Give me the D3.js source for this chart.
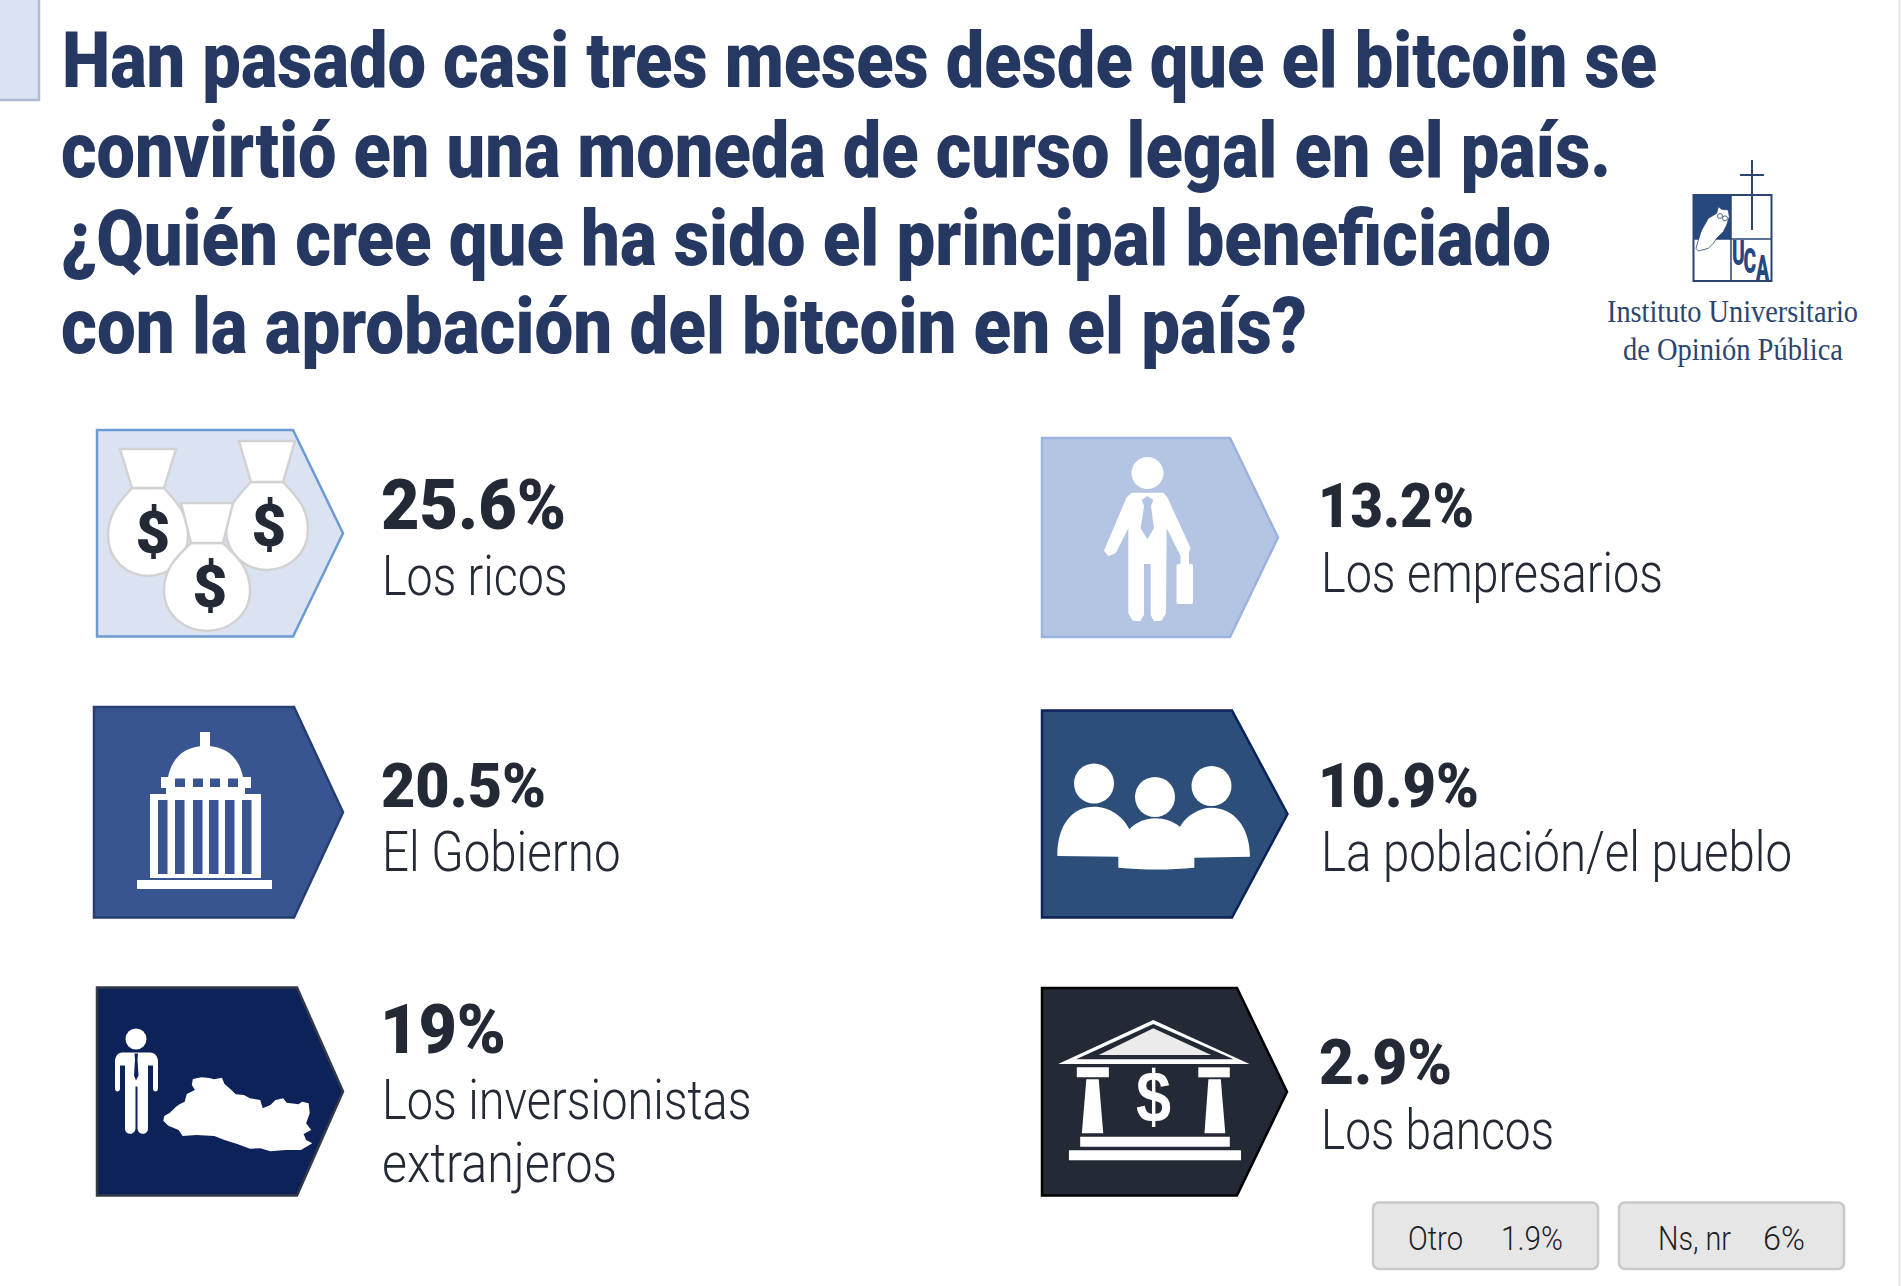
<!DOCTYPE html>
<html>
<head>
<meta charset="utf-8">
<script src="https://cdn.jsdelivr.net/npm/d3@7"></script>
<style>
  html, body { margin: 0; padding: 0; background: #fff; }
  svg { display: block; }
</style>
</head>
<body>
<div class="chart"></div>
<script>
var svgWidth = 1902;
var svgHeight = 1286;

// chart values
var titleLines = [
  "Han pasado casi tres meses desde que el bitcoin se",
  "convirtió en una moneda de curso legal en el país.",
  "¿Quién cree que ha sido el principal beneficiado",
  "con la aprobación del bitcoin en el país?"
];
var categories = [
  ["Los ricos"],
  ["El Gobierno"],
  ["Los inversionistas", "extranjeros"],
  ["Los empresarios"],
  ["La población/el pueblo"],
  ["Los bancos"]
];
var values = [25.6, 20.5, 19, 13.2, 10.9, 2.9];
var otherLabels = ["Otro", "Ns, nr"];
var otherValues = [1.9, 6];
var logoLines = ["Instituto Universitario", "de Opinión Pública"];

// layout, kept apart from the values
var titleX = [62, 61, 61, 61];
var titleEnd = [1657, 1611, 1551, 1307];
var titleBase = [87, 177, 265, 353];

var cards = [
  {x0: 97, x1: 293, x2: 343, y0: 430, y1: 636.500, fill: "#dbe3f2", stroke: "#6c9bd3"},
  {x0: 94, x1: 294, x2: 343, y0: 707, y1: 917.500, fill: "#385592", stroke: "#263e70"},
  {x0: 97, x1: 297, x2: 343, y0: 987.500, y1: 1195.500, fill: "#0c2259", stroke: "#333a46"},
  {x0: 1042, x1: 1230, x2: 1278, y0: 438, y1: 637, fill: "#b4c5e4", stroke: "#9db3dd"},
  {x0: 1042, x1: 1232, x2: 1287.500, y0: 710.500, y1: 917.500, fill: "#2c4e78", stroke: "#0c2259"},
  {x0: 1042, x1: 1237, x2: 1287, y0: 988, y1: 1195.500, fill: "#232a35", stroke: "#000"}
];
var valuePos = [
  {x: 381, end: 566, y: 529, size: 70},
  {x: 381, end: 546, y: 806.500, size: 62},
  {x: 380, end: 506, y: 1052.500, size: 69},
  {x: 1318, end: 1474, y: 526.500, size: 61},
  {x: 1318, end: 1479, y: 806.500, size: 61},
  {x: 1319, end: 1452, y: 1084, size: 63}
];
var labelPos = [
  [{x: 382, end: 567.500, y: 595}],
  [{x: 382, end: 620.500, y: 871}],
  [{x: 382, end: 751.500, y: 1119}, {x: 382, end: 617, y: 1182}],
  [{x: 1321, end: 1663, y: 592}],
  [{x: 1321, end: 1792, y: 871}],
  [{x: 1321, end: 1554, y: 1149}]
];
var boxPos = [
  {x0: 1373, x1: 1598, lx: 1408, lend: 1463, vx: 1501, vend: 1563},
  {x0: 1619, x1: 1844, lx: 1658, lend: 1731, vx: 1763, vend: 1805}
];

var svg = d3.select(".chart")
  .append("svg")
  .attr("width", svgWidth)
  .attr("height", svgHeight);

var inkColor = "#232a35";
var titleColor = "#253862";
var logoColor = "#2a4570";

// draws a text squeezed to the width it has in the picture
function fitText(parent, str, x, end, y, size, weight, color, family) {
  return parent.append("text")
    .attr("x", x)
    .attr("y", y)
    .attr("textLength", end - x)
    .attr("lengthAdjust", "spacingAndGlyphs")
    .attr("font-family", family || "Roboto, sans-serif")
    .attr("font-size", size)
    .attr("font-weight", weight)
    .attr("fill", color)
    .text(str);
}

var pathLine = d3.line();

// icons were traced on zoomed crops, so each one gets its own crop mapping
function mapper(offX, offY, kx, ky) {
  return function(p) { return [offX + p[0] / kx, offY + p[1] / ky]; };
}

function polygon(parent, pts, fill) {
  return parent.append("path")
    .attr("d", pathLine(pts) + "Z")
    .attr("fill", fill);
}

function box(parent, x0, y0, x1, y1, fill, r) {
  return parent.append("rect")
    .attr("x", x0)
    .attr("y", y0)
    .attr("width", x1 - x0)
    .attr("height", y1 - y0)
    .attr("rx", r || 0)
    .attr("fill", fill);
}

function disc(parent, cx, cy, r, fill) {
  return parent.append("circle")
    .attr("cx", cx)
    .attr("cy", cy)
    .attr("r", r)
    .attr("fill", fill);
}

// tab at the top left
svg.append("rect")
  .attr("x", -3)
  .attr("y", -3)
  .attr("width", 42)
  .attr("height", 103)
  .attr("fill", "#dbe3f2")
  .attr("stroke", "#aebbd0")
  .attr("stroke-width", 2.5);

// thin page edge on the right
svg.append("line")
  .attr("x1", 1899.500)
  .attr("x2", 1899.500)
  .attr("y1", 0)
  .attr("y2", svgHeight)
  .attr("stroke", "#e8e8e8")
  .attr("stroke-width", 2);

// title
titleLines.forEach(function(line, i) {
  fitText(svg, line, titleX[i], titleEnd[i], titleBase[i], 77, 900, titleColor);
});

// pentagon cards
svg.selectAll("path.card")
  .data(cards)
  .enter()
  .append("path")
  .attr("class", "card")
  .attr("d", function(c) {
    var mid = (c.y0 + c.y1) / 2;
    return pathLine([[c.x0, c.y0], [c.x1, c.y0], [c.x2, mid], [c.x1, c.y1], [c.x0, c.y1]]) + "Z";
  })
  .attr("fill", function(c) { return c.fill; })
  .attr("stroke", function(c) { return c.stroke; })
  .attr("stroke-width", 2.5);

// values and category labels
values.forEach(function(v, i) {
  var p = valuePos[i];
  fitText(svg, v + "%", p.x, p.end, p.y, p.size, 900, inkColor);
  categories[i].forEach(function(line, j) {
    var q = labelPos[i][j];
    fitText(svg, line, q.x, q.end, q.y, 55, 300, inkColor);
  });
});

// small grey boxes at the bottom
otherLabels.forEach(function(label, i) {
  var b = boxPos[i];
  svg.append("rect")
    .attr("x", b.x0)
    .attr("y", 1202.500)
    .attr("width", b.x1 - b.x0)
    .attr("height", 66.500)
    .attr("rx", 6)
    .attr("fill", "#e6e6e6")
    .attr("stroke", "#c9c9c9")
    .attr("stroke-width", 2.5);
  fitText(svg, label, b.lx, b.lend, 1250, 34, 300, "#1c2026");
  fitText(svg, otherValues[i] + "%", b.vx, b.vend, 1250, 34, 300, "#1c2026");
});

// money bags
var bags = svg.append("g");
function moneyBag(cx, cy, rx, ry, top, nw, nt, signX, signY) {
  var neckY = cy - ry;
  var bag = "M" + (cx - nw) + "," + neckY +
    "C" + (cx - rx * 0.75) + "," + (neckY + ry * 0.35) + " " + (cx - rx) + "," + (cy - ry * 0.4) + " " + (cx - rx) + "," + (cy + ry * 0.08) +
    "C" + (cx - rx) + "," + (cy + ry * 0.65) + " " + (cx - rx * 0.5) + "," + (cy + ry) + " " + cx + "," + (cy + ry) +
    "C" + (cx + rx * 0.5) + "," + (cy + ry) + " " + (cx + rx) + "," + (cy + ry * 0.65) + " " + (cx + rx) + "," + (cy + ry * 0.08) +
    "C" + (cx + rx) + "," + (cy - ry * 0.4) + " " + (cx + rx * 0.75) + "," + (neckY + ry * 0.35) + " " + (cx + nw) + "," + neckY + "Z";
  bags.append("path")
    .attr("d", bag)
    .attr("fill", "#fff")
    .attr("stroke", "#d2d2d2")
    .attr("stroke-width", 2.5);
  bags.append("path")
    .attr("d", pathLine([[cx - nt, top], [cx + nt, top], [cx + nw, neckY], [cx - nw, neckY]]) + "Z")
    .attr("fill", "#fff")
    .attr("stroke", "#d2d2d2")
    .attr("stroke-width", 2.5);
  bags.append("text")
    .attr("x", signX)
    .attr("y", signY)
    .attr("text-anchor", "middle")
    .attr("font-family", "Roboto, sans-serif")
    .attr("font-weight", 900)
    .attr("font-size", 60)
    .attr("fill", inkColor)
    .text("$");
}
moneyBag(148, 532, 40, 44, 449, 16, 28, 153, 553);
moneyBag(267, 526, 41, 44, 441, 16, 28, 269, 546);
moneyBag(207, 587, 43, 44, 503, 16, 26, 210, 607);

// government building
var gov = svg.append("g");
var govFill = cards[1].fill;
box(gov, 137, 880, 272, 889, "#fff");
box(gov, 150, 794, 261, 878, "#fff");
[158, 175, 193, 209, 225, 242].forEach(function(x) {
  box(gov, x, 800, x + 9.500, 874, govFill);
});
box(gov, 166, 786, 245, 795, "#fff");
box(gov, 161, 777, 251, 788, "#fff");
[175, 193, 210, 228].forEach(function(x) {
  box(gov, x, 778.500, x + 10, 787, govFill);
});
gov.append("path")
  .attr("d", "M168,777C172,758 184,746 205.500,746C227,746 239,758 243,777Z")
  .attr("fill", "#fff");
box(gov, 200, 732, 210, 748, "#fff");

// investor figure and the map of the country
var inv = svg.append("g");
var invMap = mapper(0, 960, 1.96, 3);
var person = inv.append("g").attr("transform", "translate(0,-2.500)");
disc(person, 136, 1041.500, 10.500, "#fff");
person.append("path")
  .attr("d", "M122,1055H150C155,1055 158,1059 158,1064V1091C158,1095 153,1095 153,1091V1068L148,1068V1131C148,1138 138,1138 137.500,1131V1089H135.500V1131C135,1138 125,1138 125,1131V1068L120,1068V1091C120,1095 115,1095 115,1091V1064C115,1059 118,1055 122,1055Z")
  .attr("fill", "#fff");
polygon(person, [[134.500, 1056], [138, 1056], [137.500, 1062], [138.500, 1078], [136, 1083], [134, 1078], [135, 1062]], cards[2].fill);
var salvador = [[320, 482], [322, 468], [333, 458], [345, 440], [352, 433], [362, 425], [366, 402], [382, 390], [376, 375], [378, 357], [395, 352], [410, 354], [420, 358], [435, 353], [440, 372], [452, 388], [462, 403], [478, 405], [490, 415], [510, 420], [515, 445], [530, 435], [540, 420], [555, 415], [562, 428], [585, 433], [592, 425], [605, 430], [607, 460], [600, 490], [610, 510], [595, 522], [600, 540], [612, 550], [590, 570], [560, 570], [530, 574], [510, 565], [490, 566], [465, 552], [440, 540], [420, 528], [385, 525], [358, 528], [350, 510], [330, 497]];
polygon(inv, salvador.map(invMap), "#fff");

// businessman
var biz = svg.append("g");
var bizMap = mapper(1020, 420, 3, 3);
disc(biz, 1147.500, 473, 16, "#fff");
polygon(biz, [[335, 218], [430, 218], [442, 232], [512, 385], [505, 400], [482, 408], [440, 325], [438, 580], [425, 602], [402, 604], [392, 585], [392, 432], [372, 432], [372, 585], [360, 604], [338, 602], [325, 580], [325, 325], [287, 400], [265, 408], [252, 392], [320, 232]].map(bizMap), "#fff");
polygon(biz, [[382, 228], [365, 240], [372, 258], [362, 325], [382, 358], [402, 325], [393, 258], [400, 240]].map(bizMap), cards[3].fill);
box(biz, 1180.500, 553, 1189, 566, "#fff");
box(biz, 1176.500, 564, 1193, 604, "#fff", 2);

// people
var people = svg.append("g");
var pplMap = mapper(1020, 420, 3, 3);
disc(people, 1094, 783.500, 20, "#fff");
disc(people, 1155, 797, 20, "#fff");
disc(people, 1211.500, 786, 20, "#fff");
var bodyTop = d3.path();
var bp = function(x, y) { return pplMap([x, y]); };
var a;
a = bp(112, 1308); bodyTop.moveTo(a[0], a[1]);
function curve(p1, p2, p3) {
  var c1 = bp(p1[0], p1[1]), c2 = bp(p2[0], p2[1]), e = bp(p3[0], p3[1]);
  bodyTop.bezierCurveTo(c1[0], c1[1], c2[0], c2[1], e[0], e[1]);
}
function lineTo(x, y) { var e = bp(x, y); bodyTop.lineTo(e[0], e[1]); }
curve([112, 1210], [160, 1160], [222, 1160]);
curve([270, 1160], [310, 1190], [328, 1228]);
curve([350, 1205], [380, 1195], [405, 1195]);
curve([435, 1195], [460, 1205], [480, 1220]);
curve([500, 1185], [540, 1163], [574, 1163]);
curve([640, 1163], [690, 1220], [690, 1310]);
lineTo(523, 1313);
lineTo(523, 1343);
curve([450, 1350], [370, 1350], [295, 1343]);
lineTo(295, 1310);
bodyTop.closePath();
people.append("path").attr("d", bodyTop.toString()).attr("fill", "#fff");

// bank
var bank = svg.append("g");
var bankMap = mapper(1020, 960, 1.778, 3);
var bankFill = cards[5].fill;
polygon(bank, [[237, 180], [408, 312], [68, 312]].map(bankMap), "#fff");
polygon(bank, [[237, 192], [380, 298], [100, 298]].map(bankMap), bankFill);
polygon(bank, [[237, 205], [340, 285], [140, 285]].map(bankMap), "#ebebeb");
[[101, 158, 118, 140, 110, 148], [317, 373, 335, 357, 328, 365]].forEach(function(c) {
  polygon(bank, [[c[0], 322], [c[1], 322], [c[1], 352], [c[0], 352]].map(bankMap), "#fff");
  polygon(bank, [[c[2], 358], [c[3], 358], [c[5], 520], [c[4], 520]].map(bankMap), "#fff");
});
polygon(bank, [[107, 530], [373, 530], [373, 560], [107, 560]].map(bankMap), "#fff");
polygon(bank, [[87, 571], [393, 571], [393, 601], [87, 601]].map(bankMap), "#fff");
fitText(bank, "$", 1136, 1171, 1122, 72, 700, "#fff", "Liberation Sans, sans-serif");

// logo
var logo = svg.append("g");
var logoMap = mapper(1680, 150, 3, 3);
logo.append("rect")
  .attr("x", 1693.500)
  .attr("y", 195)
  .attr("width", 78)
  .attr("height", 86)
  .attr("fill", "#fff")
  .attr("stroke", logoColor)
  .attr("stroke-width", 2);
box(logo, 1693.500, 195, 1731, 239, "#27477f");
logo.append("line")
  .attr("x1", 1731).attr("x2", 1731).attr("y1", 195).attr("y2", 281)
  .attr("stroke", logoColor).attr("stroke-width", 1.500);
logo.append("line")
  .attr("x1", 1693).attr("x2", 1772).attr("y1", 239).attr("y2", 239)
  .attr("stroke", logoColor).attr("stroke-width", 1.500);
logo.append("line")
  .attr("x1", 1752).attr("x2", 1752).attr("y1", 160).attr("y2", 230)
  .attr("stroke", logoColor).attr("stroke-width", 2);
logo.append("line")
  .attr("x1", 1740).attr("x2", 1764).attr("y1", 175).attr("y2", 175)
  .attr("stroke", logoColor).attr("stroke-width", 2);
// owl
var owl = [[115, 170], [125, 178], [145, 180], [148, 200], [140, 225], [130, 245], [110, 265], [100, 280], [85, 295], [55, 303], [48, 295], [55, 270], [65, 240], [85, 205], [110, 190]];
polygon(logo, owl.map(logoMap), "#fff")
  .attr("stroke", logoColor)
  .attr("stroke-width", 0.800);
[[120, 198], [135, 205]].map(logoMap).forEach(function(p) {
  disc(logo, p[0], p[1], 2.500, "#fff")
    .attr("stroke", logoColor)
    .attr("stroke-width", 0.800);
});
// the UCA letters step down to the right, one text with a place per glyph
var ucaSquash = 0.55;
logo.append("text")
  .attr("x", [1732, 1743.500, 1756].map(function(x) { return x / ucaSquash; }).join(" "))
  .attr("y", "265 273 280")
  .attr("transform", "scale(" + ucaSquash + ",1)")
  .attr("font-family", "Roboto, sans-serif")
  .attr("font-weight", 900)
  .attr("font-size", 35)
  .attr("fill", "#27477f")
  .text("UCA");
fitText(logo, logoLines[0], 1607, 1858, 322, 32, 400, logoColor, "Liberation Serif, serif");
fitText(logo, logoLines[1], 1623, 1843, 360, 32, 400, logoColor, "Liberation Serif, serif");
</script>
</body>
</html>
